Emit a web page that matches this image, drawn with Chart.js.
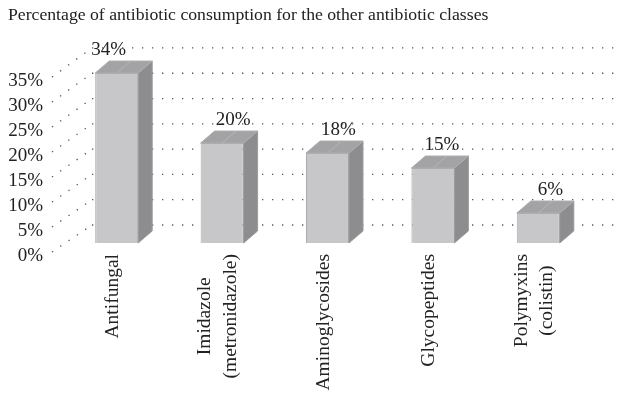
<!DOCTYPE html>
<html>
<head>
<meta charset="utf-8">
<script src="https://cdn.jsdelivr.net/npm/chart.js@4.4.0/dist/chart.umd.min.js"></script>
<style>
  html, body { margin: 0; padding: 0; background: #fff; }
  #wrap { width: 623px; height: 400px; }
</style>
</head>
<body>
<div id="wrap"><canvas id="chart"></canvas></div>
<script>
/* ===== data ===== */
const chartTitle  = "Percentage of antibiotic consumption for the other antibiotic classes";
const categories  = ["Antifungal", ["Imidazole", "(metronidazole)"], "Aminoglycosides", "Glycopeptides", ["Polymyxins", "(colistin)"]];
const consumption = [34, 20, 18, 15, 6];
const yMax  = 35;
const yStep = 5;

/* ===== 3d look ===== */
const FONT = "'Liberation Serif', 'DejaVu Serif', serif";
const DX = 14, DY = -12;            // bar depth
const FRONT = { dx: -12, dy: 9 };   // front edge of the side wall
const BACK  = { dx: 28, dy: -18 };  // back wall
const LABEL_DX = [-8, 11, 11, 9, 12];
const XLAB = { size: 19.5, lineH: 25.5, top: 254, shift: -4 };

const box3d = {
  id: "box3d",
  beforeDatasetsDraw(chart) {
    const { ctx, chartArea, scales: { y } } = chart;
    const y0 = y.getPixelForValue(0);
    ctx.save();
    ctx.strokeStyle = "#555";
    ctx.lineWidth = 1.3;
    ctx.setLineDash([1.3, 8.7]);
    y.ticks.forEach(t => {
      const yp = y.getPixelForValue(t.value);
      const yb = y0 + BACK.dy + (yp - y0) * 1.012;
      const yf = yp + FRONT.dy;
      ctx.beginPath();
      ctx.moveTo(chartArea.left + FRONT.dx, yf);
      ctx.lineTo(chartArea.left + BACK.dx, yb);
      ctx.stroke();
      ctx.beginPath();
      ctx.moveTo(chartArea.left + BACK.dx, yb);
      ctx.lineTo(chart.width - 2, yb);
      ctx.stroke();
    });
    ctx.restore();
  },
  afterDatasetsDraw(chart) {
    const { ctx } = chart;
    const meta = chart.getDatasetMeta(0);
    ctx.save();
    meta.data.forEach((bar, i) => {
      const { x, y, base, width } = bar.getProps(["x", "y", "base", "width"], true);
      const l = x - width / 2, r = x + width / 2;
      // side
      ctx.fillStyle = "#8d8d8f";
      ctx.strokeStyle = "#9c9c9e";
      ctx.lineWidth = 1;
      ctx.beginPath();
      ctx.moveTo(r, y); ctx.lineTo(r + DX, y + DY); ctx.lineTo(r + DX, base + DY); ctx.lineTo(r, base);
      ctx.closePath(); ctx.fill(); ctx.stroke();
      // top
      ctx.fillStyle = "#a3a3a5";
      ctx.strokeStyle = "#aeaeb0";
      ctx.beginPath();
      ctx.moveTo(l, y); ctx.lineTo(l + DX, y + DY); ctx.lineTo(r + DX, y + DY); ctx.lineTo(r, y);
      ctx.closePath(); ctx.fill(); ctx.stroke();
      ctx.strokeStyle = "#b6b6b8";
      ctx.beginPath();
      ctx.moveTo(x, y); ctx.lineTo(x + DX, y + DY);
      ctx.stroke();
      // value
      ctx.fillStyle = "#222";
      ctx.font = "19px " + FONT;
      ctx.textAlign = "center";
      ctx.textBaseline = "middle";
      ctx.fillText(consumption[i] + "%", x + LABEL_DX[i], y - 23);
    });
    ctx.restore();
  },
  afterDraw(chart) {
    // category labels, read bottom-to-top, each line centred in its block
    const { ctx, scales: { x } } = chart;
    ctx.save();
    ctx.fillStyle = "#222";
    ctx.font = XLAB.size + "px " + FONT;
    ctx.textAlign = "center";
    ctx.textBaseline = "middle";
    categories.forEach((lab, i) => {
      const lines = Array.isArray(lab) ? lab : [lab];
      const maxW = Math.max(...lines.map(s => ctx.measureText(s).width));
      const cx = x.getPixelForValue(i) + XLAB.shift;
      lines.forEach((s, k) => {
        const lx = cx + (k - (lines.length - 1) / 2) * XLAB.lineH;
        ctx.save();
        ctx.translate(lx, XLAB.top + maxW / 2);
        ctx.rotate(-Math.PI / 2);
        ctx.fillText(s, 0, 0);
        ctx.restore();
      });
    });
    ctx.restore();
  }
};

/* ===== chart ===== */
new Chart(document.getElementById("chart"), {
  type: "bar",
  data: {
    labels: categories,
    datasets: [{
      data: consumption,
      backgroundColor: "#c7c7c9",
      borderColor: "#acacae",
      borderWidth: 1,
      barPercentage: 0.408,
      categoryPercentage: 1
    }]
  },
  options: {
    responsive: true,
    maintainAspectRatio: false,
    animation: false,
    layout: { padding: { left: 8, right: 32, top: 0, bottom: 0 } },
    plugins: {
      legend: { display: false },
      tooltip: { enabled: false },
      title: {
        display: true,
        text: chartTitle,
        align: "start",
        color: "#222",
        font: { family: FONT, size: 17.7, weight: "normal" },
        padding: { top: 5, bottom: 41.8 }
      }
    },
    scales: {
      x: {
        grid: { display: false, drawTicks: false },
        border: { display: false },
        ticks: { display: false },
        afterFit(s) { s.height = 157; }
      },
      y: {
        min: 0,
        max: yMax,
        grid: { display: false, drawTicks: false },
        border: { display: false },
        ticks: {
          stepSize: yStep,
          autoSkip: false,
          color: "#222",
          font: { family: FONT, size: 19 },
          padding: 21,
          labelOffset: 13,
          callback: v => v + "%"
        },
        afterFit(s) { s.width = 56; }
      }
    }
  },
  plugins: [box3d]
});
</script>
</body>
</html>
